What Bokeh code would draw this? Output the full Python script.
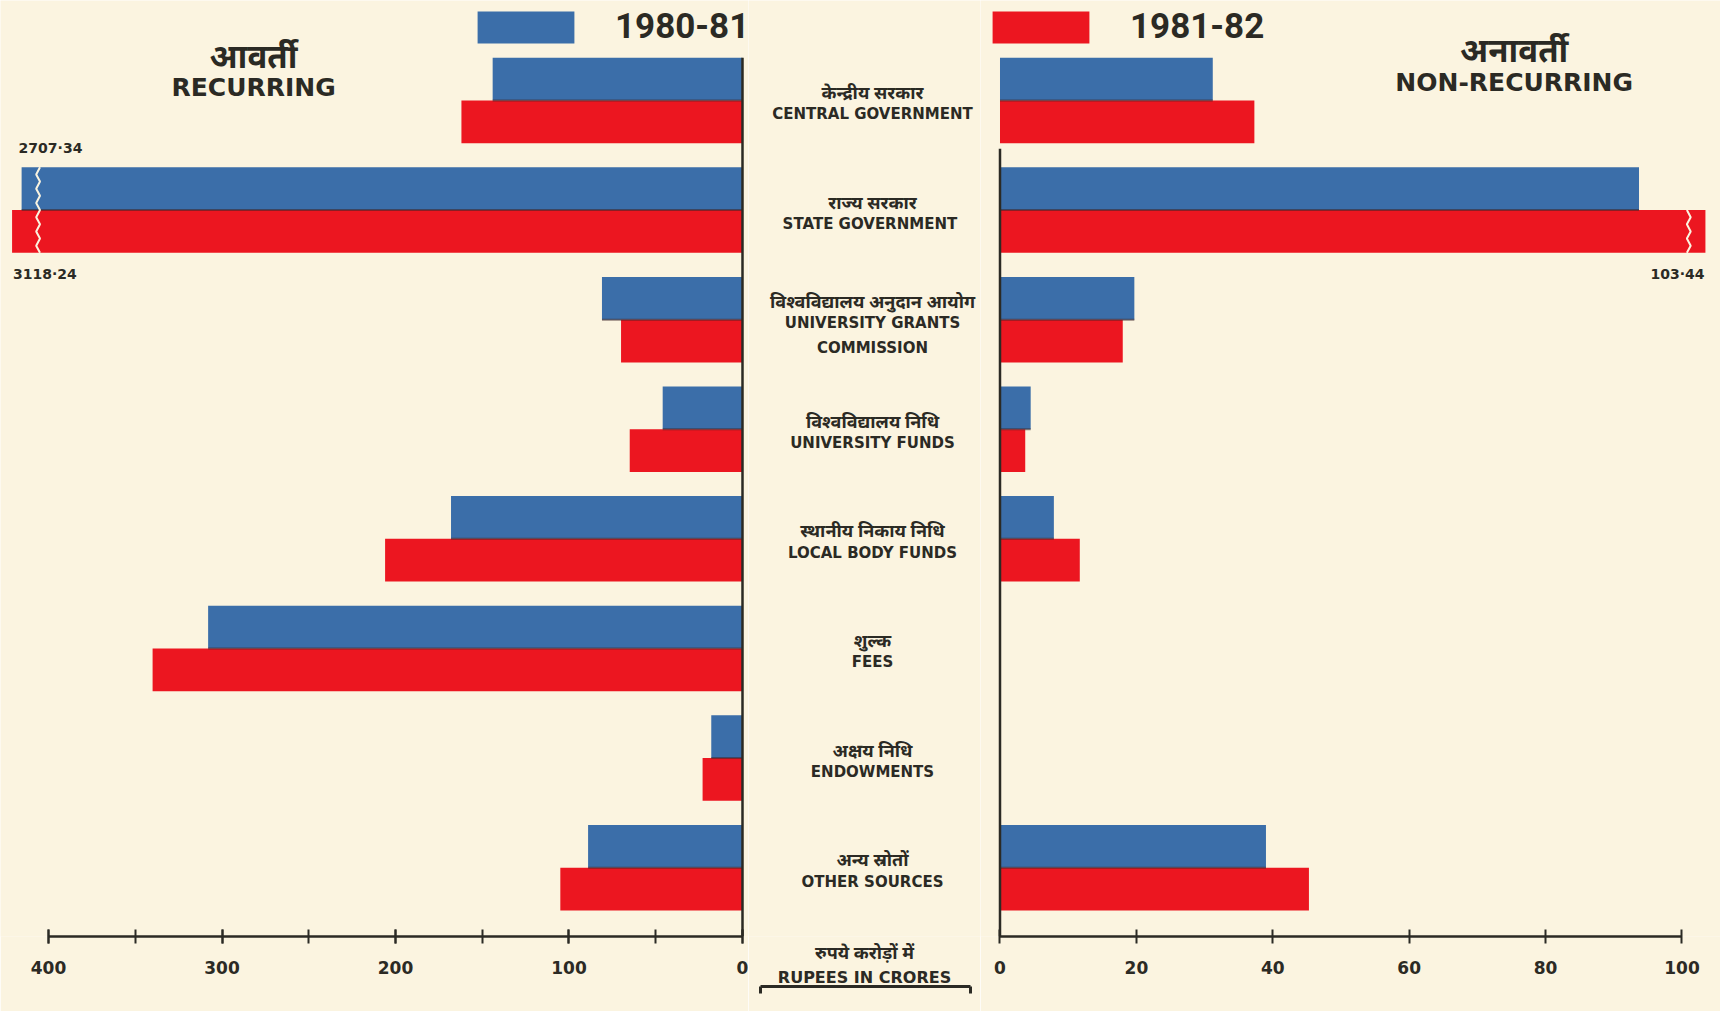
import numpy as np
from bokeh.plotting import figure
from bokeh.models import (Range1d, LinearAxis, SingleIntervalTicker, FixedTicker, Legend,
                          LegendItem, ColumnDataSource, Title)
from bokeh.layouts import row
from bokeh.core.properties import value
from bokeh.transform import dodge
from bokeh.embed import file_html
from bokeh.resources import INLINE

# ---------------- data ----------------
categories_hi = ["केन्द्रीय सरकार", "राज्य सरकार", "विश्वविद्यालय अनुदान आयोग", "विश्वविद्यालय निधि",
                 "स्थानीय निकाय निधि", "शुल्क", "अक्षय निधि", "अन्य स्रोतों"]
categories_en = ["CENTRAL GOVERNMENT", "STATE  GOVERNMENT", "UNIVERSITY GRANTS\nCOMMISSION",
                 "UNIVERSITY FUNDS", "LOCAL BODY FUNDS", "FEES", "ENDOWMENTS", "OTHER SOURCES"]
years = ["1980-81", "1981-82"]
recurring_1980_81 = [144, 2707.34, 81, 46, 168, 308, 18, 89]
recurring_1981_82 = [162, 3118.24, 70, 65, 206, 340, 23, 105]
nonrecurring_1980_81 = [31.2, 93.7, 19.7, 4.5, 7.9, 0, 0, 39.0]
nonrecurring_1981_82 = [37.3, 103.44, 18.0, 3.7, 11.7, 0, 0, 45.3]
recurring_axis_max = 400
nonrecurring_axis_max = 100
recurring_broken_length = [415.5, 421.0]   # drawn length of the broken (off-scale) bars
titles_hi = ["आवर्ती", "अनावर्ती"]
titles_en = ["RECURRING", "NON-RECURRING"]
unit_hi = "रुपये करोड़ों में"
unit_en = "RUPEES IN CRORES"

# ---------------- style ----------------
BLUE = "#3b6ea9"
RED = "#ec1620"
BG = "#fbf4e0"
INK = "#2b2a24"
SHADOW = "#3a2628"
EN = "DejaVu Sans"
HI = "Noto Sans"
EN_FONT = value(EN)
HI_FONT = value(HI)

H = 1011
BOTTOM = 75
ROW_PX = 109.6
Y_TOP = -0.912
Y_BOT = Y_TOP + (H - BOTTOM) / ROW_PX
BAR_H = 0.39

n = len(categories_en)
idx = np.arange(n)


def fmt(v):
    return ("%.2f" % v).replace(".", "·")


def drawn(vals, cut):
    return [v if v <= recurring_axis_max else cut for v in vals]


left_src = ColumnDataSource(dict(
    idx=idx,
    b=drawn(recurring_1980_81, recurring_broken_length[0]),
    r=drawn(recurring_1981_82, recurring_broken_length[1]),
))
right_src = ColumnDataSource(dict(idx=idx, b=nonrecurring_1980_81, r=nonrecurring_1981_82))


def zigzag(xc, y0, y1, amp, step=0.065):
    ys = np.arange(y0, y1 + 1e-9, step)
    xs = xc + amp * np.where(np.arange(len(ys)) % 2 == 0, -1, 1)
    return list(xs), list(ys)


def base_fig(width, x_range):
    p = figure(width=width, height=H, x_range=x_range, y_range=Range1d(Y_BOT, Y_TOP),
               x_axis_type=None, y_axis_type=None, toolbar_location=None,
               output_backend="svg", min_border=0, min_border_bottom=BOTTOM,
               background_fill_color=BG, border_fill_color=BG, outline_line_color=None)
    return p


def style_axis(ax):
    ax.axis_line_width = 2.5
    ax.axis_line_color = INK
    ax.major_tick_line_color = INK
    ax.major_tick_line_width = 2
    ax.major_tick_in = 7
    ax.major_tick_out = 7
    ax.minor_tick_line_color = INK
    ax.minor_tick_line_width = 2
    ax.minor_tick_in = 7
    ax.minor_tick_out = 7
    ax.major_label_text_font = EN
    ax.major_label_text_font_size = "17px"
    ax.major_label_text_font_style = "bold"
    ax.major_label_text_color = INK
    ax.major_label_standoff = 17


# ---------------- left: recurring ----------------
pl = base_fig(748, Range1d(427.67, -3.46))
rb = pl.hbar(y=dodge("idx", -BAR_H / 2), left=0, right="b", height=BAR_H, source=left_src,
             fill_color=BLUE, line_color=None)
rr = pl.hbar(y=dodge("idx", BAR_H / 2), left=0, right="r", height=BAR_H, source=left_src,
             fill_color=RED, line_color=None)
pl.segment(x0=0, y0="idx", x1="b", y1="idx", source=left_src, line_color=SHADOW,
           line_width=2, line_alpha=0.55)
# zero line of the recurring scale (from the top bar down to the axis)
pl.segment(x0=[0], y0=[-BAR_H], x1=[0], y1=[Y_BOT], line_color=INK, line_width=2.5)

axl = LinearAxis(ticker=SingleIntervalTicker(interval=100, num_minor_ticks=2),
                 bounds=(0, recurring_axis_max))
style_axis(axl)
pl.add_layout(axl, "below")

# break marks and value labels on off-scale bars
brk = [i for i in range(n) if recurring_1980_81[i] > recurring_axis_max]
zx, zy = [], []
for i in brk:
    xs, ys = zigzag(recurring_axis_max + 6, i - BAR_H, i + BAR_H, 1.1)
    zx.append(xs); zy.append(ys)
pl.multi_line(xs=zx, ys=zy, line_color=BG, line_width=2)
pl.text(x=[recurring_broken_length[0] for i in brk], y=[i - BAR_H for i in brk],
        text=[fmt(recurring_1980_81[i]) for i in brk], text_align="left", text_baseline="middle",
        x_offset=-3, y_offset=-19, text_font=EN_FONT, text_font_style="bold",
        text_font_size="14px", text_color=INK)
pl.text(x=[recurring_broken_length[1] for i in brk], y=[i + BAR_H for i in brk],
        text=[fmt(recurring_1981_82[i]) for i in brk], text_align="left", text_baseline="middle",
        x_offset=1, y_offset=21, text_font=EN_FONT, text_font_style="bold",
        text_font_size="14px", text_color=INK)

pl.text(x=[281.8], y=[-0.41], text=[titles_hi[0]], text_align="center", text_baseline="middle",
        text_font=HI_FONT, text_font_size="33px", text_font_style="bold", text_color=INK)
pl.text(x=[281.8], y=[-0.118], text=[titles_en[0]], text_align="center", text_baseline="middle",
        text_font=EN_FONT, text_font_style="bold", text_font_size="25px", text_color=INK)

leg_l = Legend(items=[LegendItem(label=years[0], renderers=[rb])], location=(465, 889),
               orientation="horizontal", glyph_width=121, glyph_height=40, label_standoff=29,
               padding=0, margin=0, spacing=0, border_line_alpha=0, background_fill_alpha=0,
               label_text_font="Roboto", label_text_font_style="bold",
               label_text_font_size="35px", label_text_color=INK)
pl.add_layout(leg_l)

# ---------------- middle: category names ----------------
pm = base_fig(232, Range1d(0, 232))
n_lines = np.array([c.count("\n") + 1 for c in categories_en])
block = 21.0 * (n_lines + 1)
hi_off = -block / 2 + 10.5 + 2
en_off = -block / 2 + 21 + 5
mid_src = ColumnDataSource(dict(x=[124] * n, y=idx, hi=categories_hi, en=categories_en,
                                hi_off=hi_off, en_off=en_off))
pm.text(x="x", y="y", text="hi", y_offset="hi_off", source=mid_src, text_align="center",
        text_baseline="middle", text_font=HI_FONT, text_font_style="bold",
        text_font_size="18px", text_color=INK)
pm.text(x="x", y="y", text="en", y_offset="en_off", source=mid_src, text_align="center",
        text_baseline="top", text_font=EN_FONT, text_font_style="bold", text_font_size="15px",
        text_line_height=1.4, text_color=INK)

pm.add_layout(Title(text=unit_hi, align="center", text_font=HI, text_font_style="bold",
                    text_font_size="18px", text_color=INK, standoff=3), "below")
pm.add_layout(Title(text=unit_en, align="center", text_font=EN, text_font_style="bold",
                    text_font_size="16px", text_color=INK, standoff=0), "below")

# double-ended rule under the unit, drawn in the bottom border as an unlabeled axis line
ARROW_X0, ARROW_X1 = 12, 222
rule = LinearAxis(ticker=FixedTicker(ticks=[ARROW_X0, ARROW_X1]), bounds=(ARROW_X0, ARROW_X1),
                  major_label_overrides={ARROW_X0: "", ARROW_X1: ""},
                  major_label_text_font_size="2px", major_label_standoff=0)
rule.axis_line_width = 3
rule.axis_line_color = INK
rule.major_tick_line_color = INK
rule.major_tick_line_width = 3
rule.major_tick_in = 0
rule.major_tick_out = 7
rule.minor_tick_line_color = None
pm.add_layout(rule, "below")

# ---------------- right: non-recurring ----------------
pr = base_fig(740, Range1d(-2.859, 105.65))
nb = pr.hbar(y=dodge("idx", -BAR_H / 2), left=0, right="b", height=BAR_H, source=right_src,
             fill_color=BLUE, line_color=None)
nr = pr.hbar(y=dodge("idx", BAR_H / 2), left=0, right="r", height=BAR_H, source=right_src,
             fill_color=RED, line_color=None)
pr.segment(x0=0, y0="idx", x1="b", y1="idx", source=right_src, line_color=SHADOW,
           line_width=2, line_alpha=0.55)
# zero line of the non-recurring scale (starts below the first pair of bars)
pr.segment(x0=[0], y0=[BAR_H + 0.05], x1=[0], y1=[Y_BOT], line_color=INK, line_width=2.5)

axr = LinearAxis(ticker=SingleIntervalTicker(interval=20, num_minor_ticks=0),
                 bounds=(0, nonrecurring_axis_max))
style_axis(axr)
pr.add_layout(axr, "below")

brk_r = [i for i in range(n) if nonrecurring_1981_82[i] > nonrecurring_axis_max]
zx, zy = [], []
for i in brk_r:
    xs, ys = zigzag(nonrecurring_axis_max + 1, i, i + BAR_H, 0.28)
    zx.append(xs); zy.append(ys)
pr.multi_line(xs=zx, ys=zy, line_color=BG, line_width=2)
pr.text(x=[nonrecurring_1981_82[i] for i in brk_r], y=[i + BAR_H for i in brk_r],
        text=[fmt(nonrecurring_1981_82[i]) for i in brk_r], text_align="right",
        text_baseline="middle", x_offset=-1, y_offset=21, text_font=EN_FONT,
        text_font_style="bold", text_font_size="14px", text_color=INK)

pr.text(x=[75.4], y=[-0.465], text=[titles_hi[1]], text_align="center", text_baseline="middle",
        text_font=HI_FONT, text_font_size="33px", text_font_style="bold", text_color=INK)
pr.text(x=[75.4], y=[-0.164], text=[titles_en[1]], text_align="center", text_baseline="middle",
        text_font=EN_FONT, text_font_style="bold", text_font_size="25px", text_color=INK)

leg_r = Legend(items=[LegendItem(label=years[1], renderers=[nr])], location=(0, 889),
               orientation="horizontal", glyph_width=121, glyph_height=40, label_standoff=29,
               padding=0, margin=0, spacing=0, border_line_alpha=0, background_fill_alpha=0,
               label_text_font="Roboto", label_text_font_style="bold",
               label_text_font_size="35px", label_text_color=INK)
pr.add_layout(leg_r)

layout = row(pl, pm, pr, spacing=0)
open("out.html", "w").write(file_html(layout, INLINE))
